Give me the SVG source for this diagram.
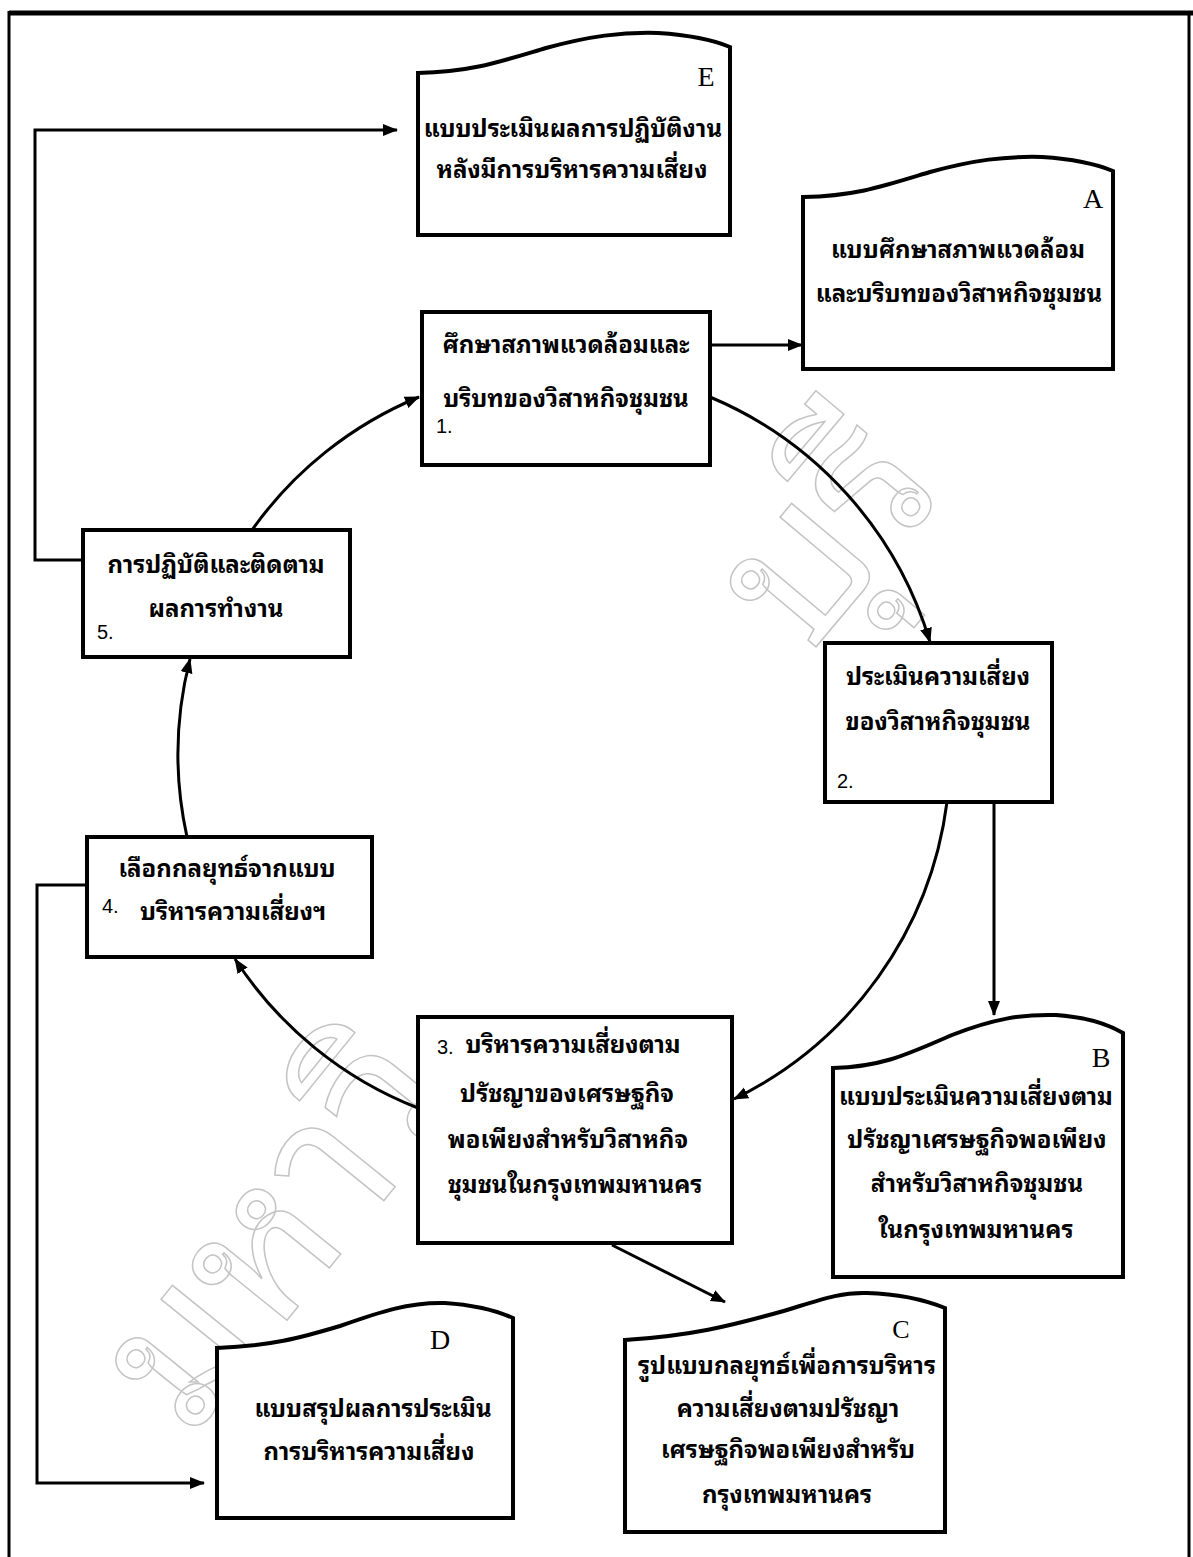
<svg xmlns="http://www.w3.org/2000/svg" width="1193" height="1557" viewBox="0 0 1193 1557">
<style>
.box{fill:#fff;stroke:#000;stroke-width:4}
.ln{fill:none;stroke:#000;stroke-width:3}
.th{font-family:"Noto Sans Thai Looped","Loma","Garuda","Norasi","Sarabun","Noto Serif Thai","Noto Sans Thai","DejaVu Sans",sans-serif;font-size:24px;font-weight:bold;text-anchor:middle;fill:#000}
.lbl{font-family:"Liberation Serif",serif;font-size:28px;text-anchor:middle;fill:#000}
.num{font-family:"Liberation Sans",Arial,sans-serif;font-size:20px;fill:#000}
.wm{font-family:"Noto Sans Thai Looped","Loma","Garuda","Noto Sans Thai",sans-serif;font-size:200px;fill:none;stroke:#c4c4c4;stroke-width:1.5}
</style>
<defs>
<marker id="ah" markerUnits="userSpaceOnUse" markerWidth="16" markerHeight="13" refX="14" refY="6" orient="auto">
<path d="M0,0 L15,6 L0,12 Z" fill="#000"/>
</marker>
</defs>
<rect width="1193" height="1557" fill="#fff"/>
<g id="frame">
<line x1="9" y1="13" x2="1193" y2="13" stroke="#000" stroke-width="5"/>
<line x1="9" y1="11" x2="9" y2="1557" stroke="#000" stroke-width="3"/>
<line x1="1189" y1="11" x2="1189" y2="1557" stroke="#000" stroke-width="3"/>
</g>
<g id="watermark">
<text class="wm" transform="translate(190,1440) rotate(-51)">มหาวิ</text>
<text class="wm" transform="translate(805,660) rotate(-50)">บุรี</text>
</g>
<g id="connectors">
<path class="ln" d="M252,530 A385 385 0 0 1 419,397" marker-end="url(#ah)"/>
<path class="ln" d="M710,397 A385 385 0 0 1 930,642" marker-end="url(#ah)"/>
<path class="ln" d="M947,802 A385 385 0 0 1 734,1099" marker-end="url(#ah)"/>
<path class="ln" d="M418,1108 A385 385 0 0 1 235,959" marker-end="url(#ah)"/>
<path class="ln" d="M187,837 A385 385 0 0 1 190,659" marker-end="url(#ah)"/>
<path class="ln" d="M710,345 L802,345" marker-end="url(#ah)"/>
<path class="ln" d="M994,802 L994,1015" marker-end="url(#ah)"/>
<path class="ln" d="M612,1245 L725,1302" marker-end="url(#ah)"/>
<path class="ln" d="M83,560 L35,560 L35,130 L397,130" marker-end="url(#ah)"/>
<path class="ln" d="M87,885 L37,885 L37,1483 L204,1483" marker-end="url(#ah)"/>
</g>
<g id="nodeE">
<path class="box" d="M418,235 L418,73 C471,72 499,62 546,48 C590,36 621,32 658,33 C689,35 711,39 730,47 L730,235 Z"/>
<text class="lbl" x="706" y="86">E</text>
<text class="th" x="573" y="137">แบบประเมินผลการปฏิบัติงาน</text>
<text class="th" x="572" y="178">หลังมีการบริหารความเสี่ยง</text>
</g>
<g id="nodeA">
<path class="box" d="M803,369 L803,197 C856,196 884,186 930,172 C974,160 1005,156 1042,157 C1073,159 1094,163 1113,171 L1113,369 Z"/>
<text class="lbl" x="1093" y="208">A</text>
<text class="th" x="958" y="258">แบบศึกษาสภาพแวดล้อม</text>
<text class="th" x="959" y="302">และบริบทของวิสาหกิจชุมชน</text>
</g>
<g id="node1">
<rect class="box" x="422" y="312" width="288" height="153"/>
<text class="th" x="566" y="353">ศึกษาสภาพแวดล้อมและ</text>
<text class="th" x="566" y="407">บริบทของวิสาหกิจชุมชน</text>
<text class="num" x="436" y="433">1.</text>
</g>
<g id="node5">
<rect class="box" x="83" y="530" width="267" height="127"/>
<text class="th" x="216" y="573">การปฏิบัติและติดตาม</text>
<text class="th" x="216" y="617">ผลการทำงาน</text>
<text class="num" x="97" y="639">5.</text>
</g>
<g id="node2">
<rect class="box" x="825" y="643" width="227" height="159"/>
<text class="th" x="938" y="685">ประเมินความเสี่ยง</text>
<text class="th" x="938" y="730">ของวิสาหกิจชุมชน</text>
<text class="num" x="837" y="788">2.</text>
</g>
<g id="node4">
<rect class="box" x="87" y="837" width="285" height="120"/>
<text class="th" x="227" y="877">เลือกกลยุทธ์จากแบบ</text>
<text class="th" x="233" y="920">บริหารความเสี่ยงฯ</text>
<text class="num" x="102" y="913">4.</text>
</g>
<g id="node3">
<rect class="box" x="418" y="1017" width="314" height="226"/>
<text class="num" x="437" y="1054">3.</text>
<text class="th" x="573" y="1053">บริหารความเสี่ยงตาม</text>
<text class="th" x="567" y="1102">ปรัชญาของเศรษฐกิจ</text>
<text class="th" x="568" y="1148">พอเพียงสำหรับวิสาหกิจ</text>
<text class="th" x="575" y="1193">ชุมชนในกรุงเทพมหานคร</text>
</g>
<g id="nodeB">
<path class="box" d="M833,1277 L833,1068 C882,1067 908,1054 952,1035 C993,1019 1022,1014 1056,1015 C1085,1017 1106,1023 1123,1033 L1123,1277 Z"/>
<text class="lbl" x="1101" y="1067">B</text>
<text class="th" x="976" y="1105">แบบประเมินความเสี่ยงตาม</text>
<text class="th" x="977" y="1148">ปรัชญาเศรษฐกิจพอเพียง</text>
<text class="th" x="977" y="1192">สำหรับวิสาหกิจชุมชน</text>
<text class="th" x="976" y="1238">ในกรุงเทพมหานคร</text>
</g>
<g id="nodeC">
<path class="box" d="M625,1532 L625,1340 C690,1336 730,1326 780,1312 C820,1300 840,1292 867,1293 C900,1294 925,1300 945,1308 L945,1532 Z"/>
<text class="lbl" x="901" y="1338" style="font-size:26px">C</text>
<text class="th" x="787" y="1374">รูปแบบกลยุทธ์เพื่อการบริหาร</text>
<text class="th" x="788" y="1417">ความเสี่ยงตามปรัชญา</text>
<text class="th" x="788" y="1458">เศรษฐกิจพอเพียงสำหรับ</text>
<text class="th" x="787" y="1503">กรุงเทพมหานคร</text>
</g>
<g id="nodeD">
<path class="box" d="M217,1518 L217,1348 C270,1346 300,1338 340,1326 C380,1312 409,1302 445,1303 C475,1305 495,1310 513,1318 L513,1518 Z"/>
<text class="lbl" x="440" y="1349">D</text>
<text class="th" x="373" y="1417">แบบสรุปผลการประเมิน</text>
<text class="th" x="369" y="1460">การบริหารความเสี่ยง</text>
</g>
</svg>
